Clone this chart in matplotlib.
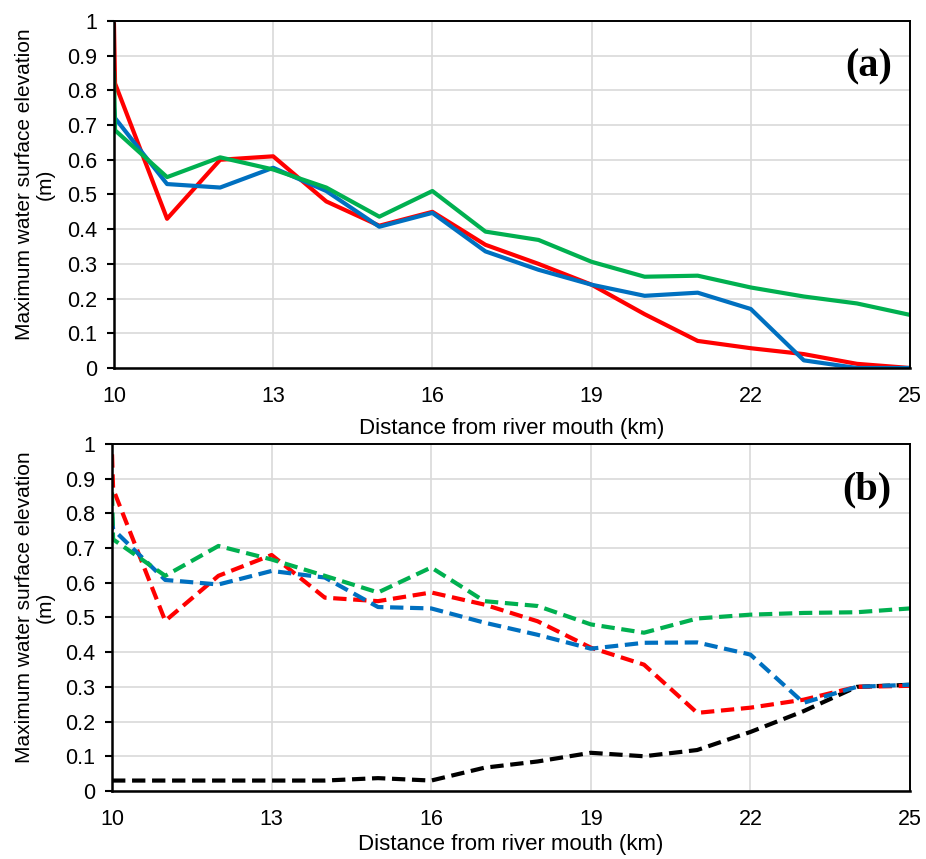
import numpy as np
import matplotlib
matplotlib.use('Agg')
import matplotlib.pyplot as plt

plt.rcParams['font.family'] = ['Liberation Sans', 'DejaVu Sans']

# distance along the river (km); first pair sits right at the 10 km edge
dist = [10, 10.02, 11, 12, 13, 14, 15, 16, 17, 18, 19, 20, 21, 22, 23, 24, 25]

# (a) maximum water surface elevation (m)
a_red = [0.99, 0.82, 0.43, 0.60, 0.61, 0.48, 0.41, 0.45, 0.355, 0.30, 0.24, 0.155, 0.078,
         0.057, 0.04, 0.012, 0.0]
a_blue = [0.75, 0.72, 0.53, 0.52, 0.577, 0.51, 0.407, 0.447, 0.336, 0.283, 0.24, 0.208, 0.217,
          0.17, 0.022, 0.0, 0.0]
a_green = [0.85, 0.685, 0.55, 0.607, 0.572, 0.52, 0.436, 0.51, 0.393, 0.369, 0.306, 0.263,
           0.266, 0.232, 0.206, 0.186, 0.153]

# (b) maximum water surface elevation (m)
b_red = [0.97, 0.87, 0.49, 0.62, 0.68, 0.557, 0.547, 0.572, 0.537, 0.489, 0.413, 0.364,
         0.225, 0.24, 0.263, 0.30, 0.303]
b_blue = [0.79, 0.754, 0.608, 0.595, 0.634, 0.615, 0.53, 0.526, 0.485, 0.45, 0.41, 0.427,
          0.428, 0.393, 0.254, 0.30, 0.306]
b_green = [0.86, 0.725, 0.62, 0.706, 0.667, 0.62, 0.572, 0.644, 0.547, 0.533, 0.48, 0.456,
           0.497, 0.508, 0.513, 0.515, 0.526]
b_black = [0.03, 0.03, 0.03, 0.03, 0.03, 0.03, 0.037, 0.03, 0.067, 0.085, 0.11, 0.10,
           0.118, 0.17, 0.23, 0.30, 0.306]

xticks = [10, 13, 16, 19, 22, 25]
yticks = np.round(np.arange(0, 1.01, 0.1), 1)
ytick_labels = ['0'] + ['{:g}'.format(v) for v in yticks[1:-1]] + ['1']

RED, BLUE, GREEN = '#FF0000', '#0070C0', '#00B050'

fig = plt.figure(figsize=(9.26, 8.59), dpi=100)
ax_a = fig.add_axes([0.1231, 0.5716, 0.8596, 0.4040])
ax_b = fig.add_axes([0.1210, 0.0792, 0.8617, 0.4040])


def style(ax, tag, label_x, xpad):
    ax.set_xlim(10, 25)
    ax.set_ylim(0, 1)
    ax.set_xticks(xticks)
    ax.set_yticks(yticks)
    ax.set_yticklabels(ytick_labels)
    ax.grid(True, color='#d9d9d9', linewidth=1.2)
    ax.set_axisbelow(True)
    ax.tick_params(axis='x', length=0, labelsize=15.5, pad=13)
    ax.tick_params(axis='y', length=5, width=1.5, direction='out', labelsize=15.5, pad=7)
    for side in ['left', 'bottom']:
        ax.spines[side].set_linewidth(1.8)
    for side in ['top', 'right']:
        ax.spines[side].set_linewidth(1.4)
    ax.set_xlabel('Distance from river mouth (km)', fontsize=16, labelpad=xpad)
    ax.set_ylabel('Maximum water surface elevation\n(m)', fontsize=15,
                  linespacing=1.15)
    ax.yaxis.set_label_coords(label_x, 0.53)
    ax.text(0.977, 0.868, tag, transform=ax.transAxes, ha='right', va='center',
            fontsize=29, fontweight='bold', family='Liberation Serif')


# solid lines for (a)
ax_a.plot(dist, a_red, color=RED, lw=3)
ax_a.plot(dist, a_blue, color=BLUE, lw=3)
ax_a.plot(dist, a_green, color=GREEN, lw=3)
style(ax_a, '(a)', -0.074, 8)

# dashed lines for (b)
dash = (0, (3.2, 1.6))
ax_b.plot(dist, b_black, color='black', lw=3, linestyle=dash)
ax_b.plot(dist, b_red, color=RED, lw=3, linestyle=dash)
ax_b.plot(dist, b_blue, color=BLUE, lw=3, linestyle=dash)
ax_b.plot(dist, b_green, color=GREEN, lw=3, linestyle=dash)
style(ax_b, '(b)', -0.0714, 3)

fig.savefig('out.png', dpi=100)
